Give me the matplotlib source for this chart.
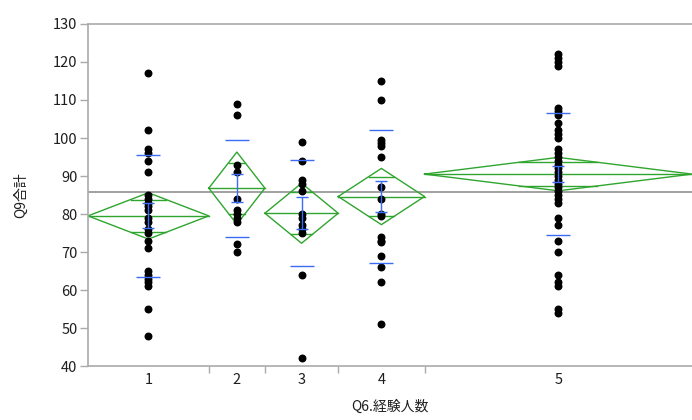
import matplotlib
matplotlib.use("Agg")
import matplotlib.pyplot as plt
import numpy as np

plt.rcParams['font.family'] = ['Noto Sans CJK JP', 'DejaVu Sans']

# groups of Q6 (number of experiences)
groups = ["1", "2", "3", "4", "5"]
# group sizes read from the proportional x-axis widths
group_n = [28, 13, 17, 20, 62]

# Q9 totals (visible points; overlapping duplicates are hidden in the picture)
vals_1 = [117, 102, 97, 96, 94, 91, 85, 84, 83, 82, 81, 79, 78, 76, 75, 73, 71,
          65, 64, 63, 62, 61, 55, 48]
vals_2 = [109, 106, 93, 91, 84, 81, 80, 79, 78, 72, 70]
vals_3 = [99, 94, 89, 88, 86, 80, 79, 77, 76, 75, 64, 42]
vals_4 = [115, 110, 99.5, 98.6, 98, 95, 87, 84, 80, 79.5, 74, 73, 72.7, 69,
          66, 62, 51]
vals_5 = [122, 121, 120, 119, 108, 107, 106, 104, 102, 101, 100, 97, 96, 95,
          94, 93, 92, 91, 90, 89, 88, 87, 86, 85, 84, 83, 79, 77, 73, 70, 64,
          62, 61, 55, 54]
all_vals = [vals_1, vals_2, vals_3, vals_4, vals_5]

# means diamonds (mean, 95% CI half-width), error bars and std dev lines
means = [79.5, 86.8, 80.2, 84.6, 90.5]
ci_half = [6.1, 9.5, 7.9, 7.4, 4.4]
se = [3.3, 3.75, 4.15, 4.05, 2.2]
sd = [16.1, 12.75, 14.0, 17.6, 16.0]
grand_mean = 85.9

green = '#2fa52f'
blue = '#3b6cf5'
axis_gray = '#aaaaaa'
text_col = '#1e1e1e'

fig = plt.figure(figsize=(6.92, 4.2), dpi=100)
ax = fig.add_axes([88/692, 54/420, 604/692, 342/420])

edges = np.concatenate([[0], np.cumsum(group_n)])
centers = (edges[:-1] + edges[1:]) / 2

ax.axhline(grand_mean, color='#9a9a9a', lw=1.3, zorder=1)

for i in range(len(groups)):
    x0, x1, xc = edges[i], edges[i + 1], centers[i]
    m, h = means[i], ci_half[i]
    # diamond
    ax.plot([x0, xc, x1, xc, x0], [m, m + h, m, m - h, m], color=green, lw=1.0, zorder=2)
    ax.plot([x0, x1], [m, m], color=green, lw=1.0, zorder=2)
    # overlap marks
    oh = h / np.sqrt(2)
    half_w = (x1 - x0) / 2 * (1 - oh / h)
    for y in (m + oh, m - oh):
        ax.plot([xc - half_w, xc + half_w], [y, y], color=green, lw=1.0, zorder=2)
    # points
    v = all_vals[i]
    ax.plot([xc] * len(v), v, 'o', color='black', ms=4.7, zorder=3)
    # std dev lines
    ax.plot([xc, xc], [m + sd[i], m - sd[i]], ls='none', marker='_', ms=17,
            mew=1.0, color=blue, zorder=4)
    # error bar
    ax.errorbar([xc], [m], yerr=[se[i]], fmt='none', ecolor=blue, elinewidth=1.0,
                capsize=4.3, capthick=1.0, zorder=4)

ax.set_xlim(edges[0], edges[-1])
ax.set_ylim(40, 130)
ax.set_yticks(np.arange(40, 131, 10))

ax.set_xticks(edges[1:-1])
ax.set_xticklabels([])
ax.set_xticks(centers, minor=True)
ax.set_xticklabels(groups, minor=True)
ax.tick_params(axis='x', which='major', length=5, color=axis_gray, width=1)
ax.tick_params(axis='x', which='minor', length=0, pad=5, labelsize=10.5, labelcolor=text_col)
ax.tick_params(axis='y', length=5.5, color=axis_gray, width=1, labelsize=10.5,
               labelcolor=text_col, pad=2)

for s in ['left', 'bottom', 'top']:
    ax.spines[s].set_color(axis_gray)
    ax.spines[s].set_linewidth(1.2)
ax.spines['right'].set_visible(False)

ax.set_xlabel("Q6.経験人数", fontsize=10, color=text_col, labelpad=9)
ax.set_ylabel("Q9合計", fontsize=10, color=text_col, labelpad=18)

fig.savefig("out.png", dpi=100)
